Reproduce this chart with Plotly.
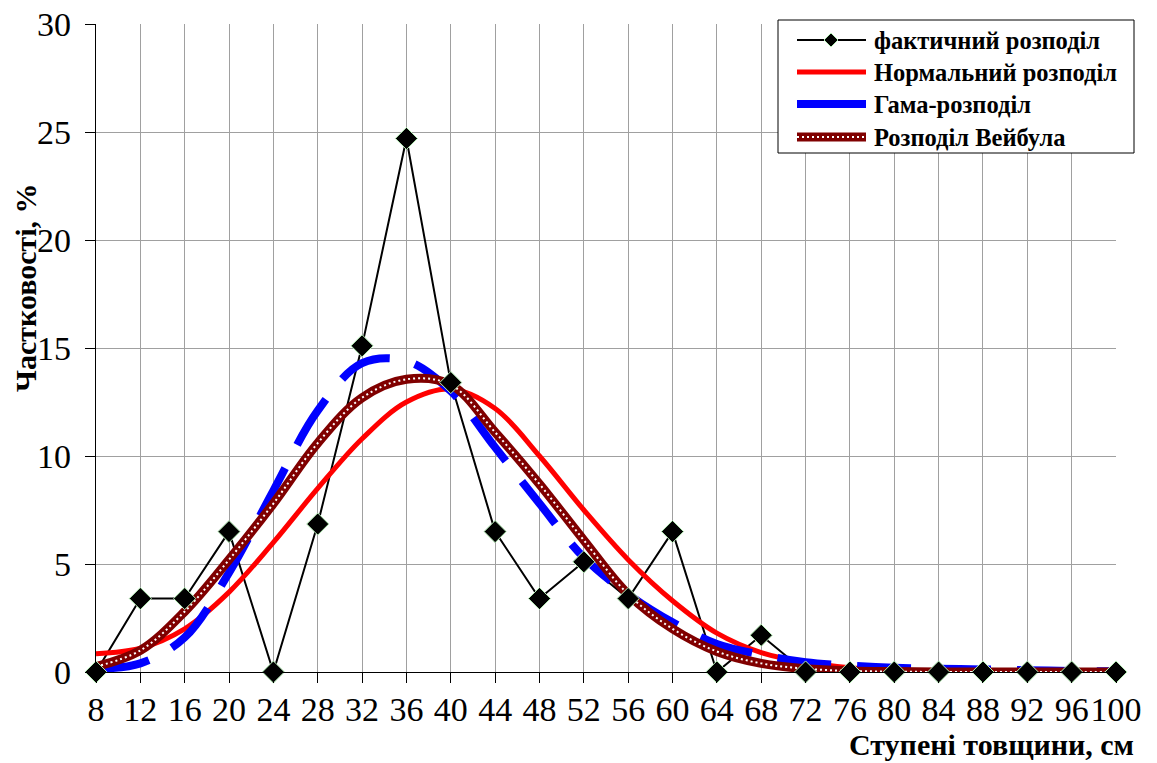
import plotly.graph_objects as go

# ---------------- data ----------------
steps = [8, 12, 16, 20, 24, 28, 32, 36, 40, 44, 48, 52, 56, 60, 64, 68, 72, 76, 80, 84, 88, 92, 96, 100]
actual = [0, 3.4, 3.4, 6.5, 0, 6.85, 15.1, 24.7, 13.4, 6.5, 3.4, 5.1, 3.4, 6.5, 0, 1.7, 0, 0, 0, 0, 0, 0, 0, 0]
normal = [0.85, 1.1, 2.0, 3.7, 6.0, 8.5, 10.8, 12.5, 13.1, 12.2, 10.0, 7.5, 5.2, 3.3, 1.8, 0.9, 0.45, 0.2, 0.08, 0.03, 0.01, 0, 0, 0]
gamma = [0.15, 0.4, 1.6, 4.6, 8.4, 12.1, 14.3, 14.4, 13.0, 10.4, 7.8, 5.3, 3.6, 2.3, 1.3, 0.8, 0.45, 0.3, 0.2, 0.15, 0.12, 0.08, 0.05, 0.03]
weibull = [0.25, 1.0, 2.8, 5.2, 7.8, 10.6, 12.7, 13.55, 13.3, 11.1, 8.7, 6.1, 3.6, 2.0, 0.95, 0.4, 0.15, 0.05, 0.02, 0, 0, 0, 0, 0]

names = ["фактичний розподіл", "Нормальний розподіл", "Гама-розподіл", "Розподіл Вейбула"]
x_title = "Ступені товщини, см"
y_title = "Частковості, %"

FONT = "Liberation Serif, Times New Roman, serif"
W, H = 1157, 763
L, R, T, B = 96, 1116, 24, 672   # plot area in page pixels


def px2x(px):
    return (px - L) / (R - L)


def py2y(py):
    return (B - py) / (B - T)


fig = go.Figure()

fig.add_trace(go.Scatter(x=steps, y=actual, mode="lines",
                         line=dict(color="black", width=2), showlegend=False, name=names[0]))
fig.add_trace(go.Scatter(x=steps, y=normal, mode="lines", line_shape="spline",
                         line=dict(color="#ff0000", width=5), showlegend=False, name=names[1]))
fig.add_trace(go.Scatter(x=steps, y=gamma, mode="lines", line_shape="spline",
                         line=dict(color="#0000ff", width=8, dash="54px,26px"),
                         showlegend=False, name=names[2]))
fig.add_trace(go.Scatter(x=steps, y=weibull, mode="lines", line_shape="spline",
                         line=dict(color="#800000", width=9), showlegend=False, name=names[3]))
fig.add_trace(go.Scatter(x=steps, y=weibull, mode="lines", line_shape="spline",
                         line=dict(color="white", width=2, dash="2px,3px"),
                         showlegend=False, hoverinfo="skip"))
fig.add_trace(go.Scatter(x=steps, y=actual, mode="markers", cliponaxis=False,
                         marker=dict(symbol="diamond", size=17, color="black",
                                     line=dict(color="#b8f0b8", width=1)),
                         showlegend=False, name=names[0]))

# ---------------- manual legend ----------------
shapes = []
annotations = []
shapes.append(dict(type="rect", xref="paper", yref="paper",
                   x0=px2x(778), x1=px2x(1134), y0=py2y(153), y1=py2y(20),
                   line=dict(color="black", width=1), fillcolor="white", layer="above"))
rows = [40, 72, 104, 137]
lx0, lx1 = px2x(797), px2x(866)
shapes.append(dict(type="line", xref="paper", yref="paper", x0=lx0, x1=lx1,
                   y0=py2y(rows[0]), y1=py2y(rows[0]), line=dict(color="black", width=2)))
cx, cy, d = 831, rows[0], 7
shapes.append(dict(type="path", xref="paper", yref="paper",
                   path=f"M {px2x(cx - d)} {py2y(cy)} L {px2x(cx)} {py2y(cy - d)} L {px2x(cx + d)} {py2y(cy)} L {px2x(cx)} {py2y(cy + d)} Z",
                   fillcolor="black", line=dict(color="#b8f0b8", width=1)))
shapes.append(dict(type="line", xref="paper", yref="paper", x0=lx0, x1=lx1,
                   y0=py2y(rows[1]), y1=py2y(rows[1]), line=dict(color="#ff0000", width=5)))
shapes.append(dict(type="line", xref="paper", yref="paper", x0=lx0, x1=lx1,
                   y0=py2y(rows[2]), y1=py2y(rows[2]), line=dict(color="#0000ff", width=8)))
shapes.append(dict(type="line", xref="paper", yref="paper", x0=lx0, x1=lx1,
                   y0=py2y(rows[3]), y1=py2y(rows[3]), line=dict(color="#800000", width=9)))
shapes.append(dict(type="line", xref="paper", yref="paper", x0=lx0, x1=lx1,
                   y0=py2y(rows[3]), y1=py2y(rows[3]),
                   line=dict(color="white", width=2, dash="2px,3px")))
for nm, ry in zip(names, rows):
    annotations.append(dict(xref="paper", yref="paper", x=px2x(872), y=py2y(ry),
                            xanchor="left", yanchor="middle", showarrow=False,
                            text=f"<b>{nm}</b>", font=dict(family=FONT, size=24.5, color="black")))

annotations.append(dict(xref="paper", yref="paper", x=px2x(25), y=py2y(288),
                        xanchor="center", yanchor="middle", showarrow=False, textangle=-90,
                        text=f"<b>{y_title}</b>", font=dict(family=FONT, size=30, color="black")))
annotations.append(dict(xref="paper", yref="paper", x=px2x(1136), y=py2y(744),
                        xanchor="right", yanchor="middle", showarrow=False,
                        text=f"<b>{x_title}</b>", font=dict(family=FONT, size=30, color="black")))

fig.update_layout(
    width=W, height=H,
    margin=dict(l=L, r=W - R, t=T, b=H - B, pad=0),
    paper_bgcolor="white", plot_bgcolor="white",
    font=dict(family=FONT, size=34, color="black"),
    shapes=shapes, annotations=annotations,
    showlegend=False,
    xaxis=dict(range=[8, 100], tickvals=steps, ticktext=[str(s) for s in steps],
               tickangle=0, automargin=False, ticklabeloverflow="allow",
               showgrid=True, gridcolor="#a0a0a0", gridwidth=1.3, zeroline=False,
               showline=True, linecolor="black", linewidth=1.3,
               ticks="outside", ticklen=10, tickcolor="black", tickwidth=1.3,
               tickfont=dict(family=FONT, size=34, color="black"), ticklabelstandoff=-3),
    yaxis=dict(range=[0, 30], tickvals=[0, 5, 10, 15, 20, 25, 30],
               automargin=False, ticklabeloverflow="allow",
               showgrid=True, gridcolor="#a0a0a0", gridwidth=1.3, zeroline=False,
               showline=True, linecolor="black", linewidth=1.3,
               ticks="outside", ticklen=10, tickcolor="black", tickwidth=1.3,
               tickfont=dict(family=FONT, size=34, color="black"), ticklabelstandoff=7),
)

fig.write_html("out.html", config={"displayModeBar": False},
               post_script="document.body.style.margin='0px';document.body.style.overflow='hidden';")
